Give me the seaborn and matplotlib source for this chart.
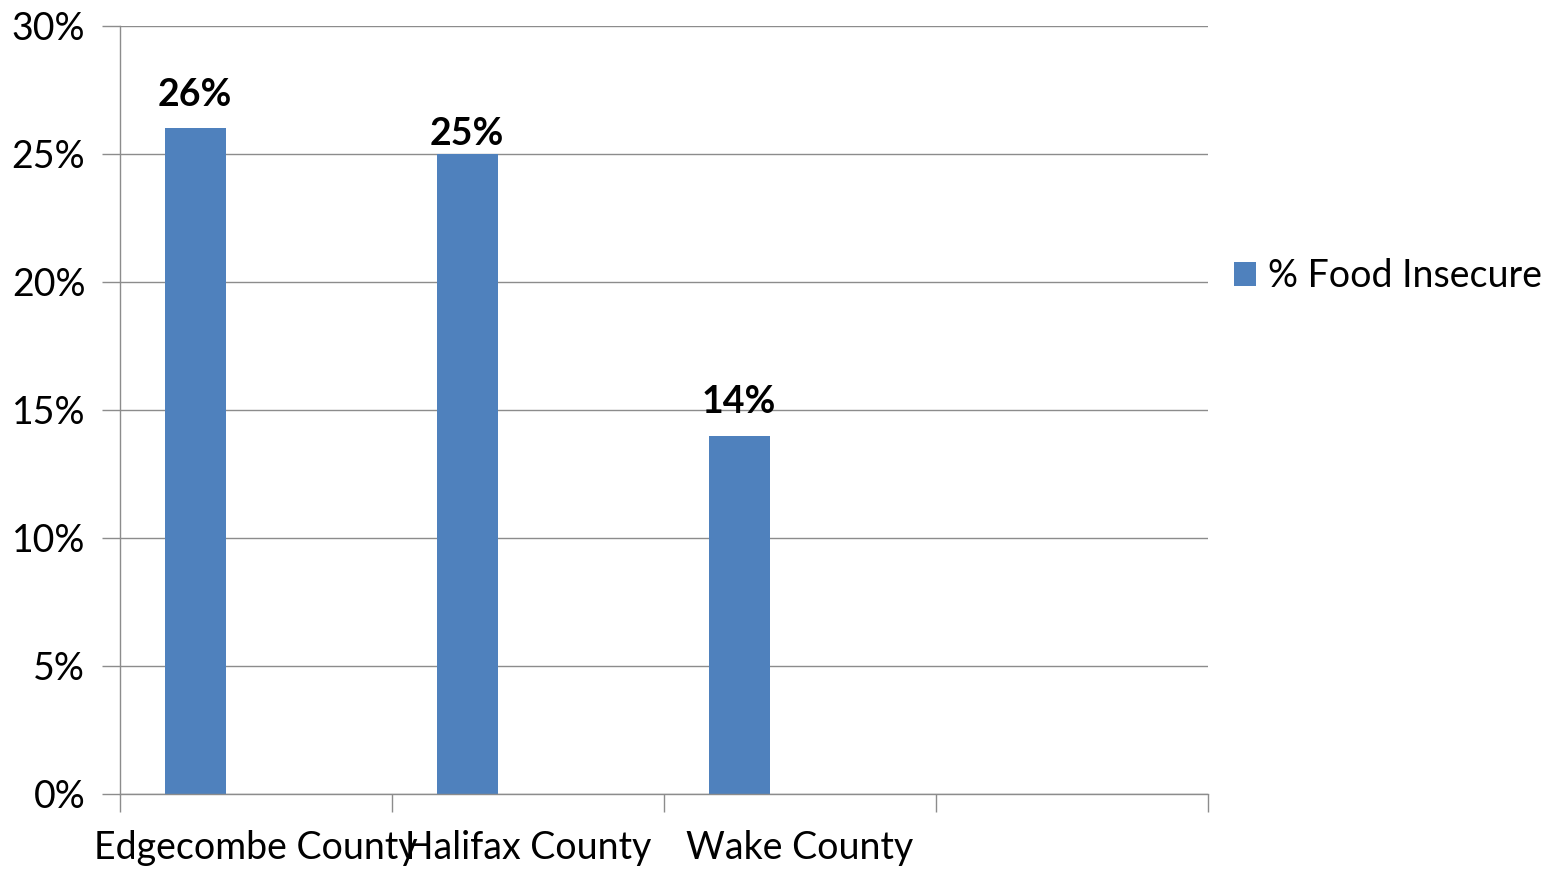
import pandas as pd
import matplotlib.pyplot as plt
import seaborn as sns
from matplotlib.patches import Patch
from matplotlib.ticker import FixedLocator, PercentFormatter

# data
counties = ["Edgecombe County", "Halifax County", "Wake County", ""]
pct_food_insecure = [0.26, 0.25, 0.14, None]
series_name = "% Food Insecure"
y_ticks = [0, 0.05, 0.10, 0.15, 0.20, 0.25, 0.30]

# label gap above each bar (points), the middle one sits lower in the original
label_gap = [12, 2, 12, 0]

df = pd.DataFrame({"county": counties, "pct": pct_food_insecure})

sns.set_style("white")
plt.rcParams["font.family"] = ["Lato", "DejaVu Sans"]
plt.rcParams["text.color"] = "black"
plt.rcParams["xtick.color"] = "black"
plt.rcParams["ytick.color"] = "black"

bar_color = "#4F81BD"
grid_color = "#8C8C8C"
bar_w = 0.224
fs = 27

fig = plt.figure(figsize=(15.56, 8.73), dpi=100)
ax = fig.add_axes([120 / 1556, 79 / 873, 1088 / 1556, 768 / 873])

sns.barplot(data=df, x="county", y="pct", order=counties, color=bar_color,
            width=bar_w, saturation=1, ax=ax, errorbar=None)

# original chart leaves room for 3 series per category; only the first is filled
for p in ax.patches:
    p.set_x(p.get_x() - bar_w)
    p.set_edgecolor("none")

for p, v, g in zip(ax.patches, pct_food_insecure, label_gap):
    if v is None:
        continue
    ax.annotate(f"{v:.0%}", (p.get_x() + p.get_width() / 2, v),
                xytext=(0, g), textcoords="offset points",
                ha="center", va="bottom", fontsize=fs, fontweight="bold", color="black")

ax.set_ylim(0, 0.30)
ax.set_xlim(-0.5, len(counties) - 0.5)
ax.yaxis.set_major_locator(FixedLocator(y_ticks))
ax.yaxis.set_major_formatter(PercentFormatter(1.0, decimals=0))
ax.grid(axis="y", color=grid_color, linewidth=1)
ax.set_axisbelow(True)

# category labels centred, tick marks on boundaries
ax.set_xticks([i - 0.5 for i in range(len(counties) + 1)], [""] * (len(counties) + 1))
ax.set_xticks(range(len(counties)), counties, minor=True)
ax.tick_params(axis="x", which="major", length=13, color=grid_color, width=1, direction="out", bottom=True)
ax.tick_params(axis="x", which="minor", length=0, pad=26, labelsize=fs, labelcolor="black")
ax.tick_params(axis="y", length=13, color=grid_color, width=1, direction="out", left=True, pad=12,
               labelsize=fs, labelcolor="black")

ax.set_xlabel("")
ax.set_ylabel("")
for s in ["top", "right"]:
    ax.spines[s].set_visible(False)
for s in ["left", "bottom"]:
    ax.spines[s].set_color(grid_color)
    ax.spines[s].set_linewidth(1)

handles = [Patch(facecolor=bar_color, edgecolor="none", label=series_name)]
fig.legend(handles=handles, loc="center left", bbox_to_anchor=(1200 / 1556, 1 - 276 / 873),
           frameon=False, fontsize=fs, handlelength=0.6, handleheight=0.6, handletextpad=0.3)

fig.savefig("out.png", dpi=100)
